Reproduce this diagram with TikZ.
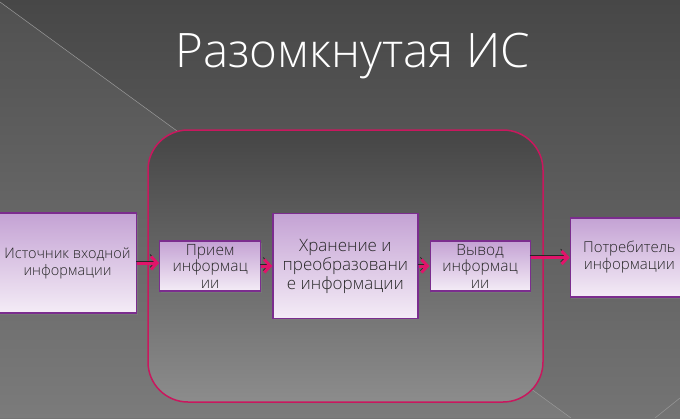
\documentclass[tikz,border=0pt]{standalone}
\usepackage{fontspec}
\setmainfont{Open Sans Light}
\usetikzlibrary{positioning}
\usetikzlibrary{arrows.meta}
\usetikzlibrary{shadows}

\definecolor{bgoben}{HTML}{474747}
\definecolor{bgunten}{HTML}{747474}
\definecolor{rahmoben}{HTML}{454545}
\definecolor{rahmunten}{HTML}{8C8C8C}
\definecolor{rahmrot}{HTML}{C8185E}
\definecolor{boxrand}{HTML}{7B2D8E}
\definecolor{boxoben}{HTML}{C4A2D4}
\definecolor{boxunten}{HTML}{F4ECF6}
\definecolor{pfeilrot}{HTML}{E0146A}

\begin{document}
\begin{tikzpicture} [x=1pt, y=-1pt, thick,
    main/.style = {draw=boxrand, line width=1.2pt, top color=boxoben, bottom color=boxunten,
        drop shadow={opacity=0.45, shadow xshift=1pt, shadow yshift=-1.5pt},
        inner sep=0pt, align=center, text=black!85, font=\fontsize{15.5}{16.5}\selectfont},
    pfeil/.style = {line width=3pt, draw=pfeilrot, -{Straight Barb[length=6pt, width=13pt]},
        preaction={draw=black!85, transform canvas={xshift=-1pt, yshift=2pt}}}]
        %Hintergrund
        \useasboundingbox (0,0) rectangle (680,418);
        \fill[top color=bgoben, bottom color=bgunten] (0,0) rectangle (680,418);
        \fill[white, opacity=0.05] (0,2) -- (571,418) -- (0,418) -- cycle;
        \draw[gray!80, line width=0.5pt] (0,2) -- (571,418);
        \draw[gray!80, line width=0.5pt] (680,398) -- (655,418);
        \draw[draw=rahmrot, line width=1.5pt, rounded corners=40pt, top color=rahmoben, bottom color=rahmunten]
            (148,130) rectangle (543,402);

        \node[text=white, font=\fontsize{47.5}{52}\selectfont, anchor=base] (titel) at (352.5,67) {Разомкнутая ИС};

        %Knoten
        \node[main, minimum width=138pt, minimum height=100pt, font=\fontsize{14.5}{17}\selectfont] (src) at (67.5,263) {Источник входной\\информации};
        \node[main, minimum width=101pt, minimum height=50pt] (rcv) [right = 22pt of src, yshift=-3pt] {Прием\\информац\\ии};
        \node[main, minimum width=145pt, minimum height=105pt, font=\fontsize{17}{19}\selectfont] (proc) [right = 11pt of rcv] {Хранение и\\преобразовани\\е информации};
        \node[main, minimum width=100pt, minimum height=50pt] (out) [right = 11pt of proc] {Вывод\\информац\\ии};
        \node[main, minimum width=118pt, minimum height=79pt, font=\fontsize{15}{17}\selectfont] (dst) [right = 39pt of out, yshift=8.5pt] {Потребитель\\информации};

        %Pfeile
        \draw[pfeil] (src.east) -- (src.east -| rcv.west);
        \draw[pfeil] (rcv.east) -- (proc.west);
        \draw[pfeil] (proc.east) -- (out.west);
        \draw[pfeil] (out.east |- dst.west) -- (dst.west);

    \end{tikzpicture}
\end{document}
